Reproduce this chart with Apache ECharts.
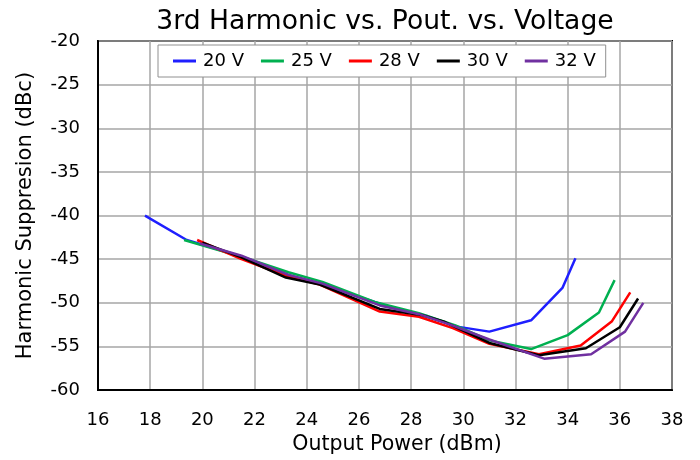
<!DOCTYPE html>
<html><head><meta charset="utf-8">
<script src="https://cdn.jsdelivr.net/npm/echarts@6/dist/echarts.min.js"></script>
<style>html,body{margin:0;padding:0;background:#fff}#c{width:700px;height:460px}</style>
</head><body><div id="c"></div>
<script>
var seriesNames = ['20 V', '25 V', '28 V', '30 V', '32 V'];
var seriesColors = ['#1f1fff', '#00b050', '#ff0000', '#000000', '#7030a0'];
var v20 = [[17.8,-40.0],[19.4,-42.8],[21.5,-44.7],[23.3,-46.8],[25.0,-48.3],[27.0,-50.3],[28.6,-51.5],[29.7,-52.7],[31.0,-53.3],[32.6,-52.0],[33.8,-48.3],[34.3,-44.9]];
var v25 = [[19.3,-42.8],[21.6,-44.8],[23.3,-46.5],[24.6,-47.6],[26.6,-49.9],[28.3,-51.2],[29.7,-52.6],[31.0,-54.3],[32.6,-55.3],[34.0,-53.7],[35.2,-51.1],[35.8,-47.4]];
var v28 = [[19.8,-42.8],[21.5,-45.0],[23.2,-46.9],[24.5,-47.9],[26.8,-51.0],[28.3,-51.6],[29.6,-52.9],[31.0,-54.7],[32.9,-55.9],[34.5,-54.9],[35.7,-52.1],[36.4,-48.8]];
var v30 = [[20.0,-43.1],[21.5,-44.8],[23.2,-47.1],[24.5,-47.9],[26.8,-50.7],[28.4,-51.4],[29.3,-52.2],[31.0,-54.6],[32.9,-56.0],[34.7,-55.2],[36.0,-52.8],[36.7,-49.5]];
var v32 = [[19.9,-43.2],[21.5,-44.6],[23.3,-46.8],[24.6,-47.8],[26.8,-50.3],[28.3,-51.3],[29.5,-52.5],[31.0,-54.2],[33.1,-56.4],[34.9,-55.9],[36.2,-53.3],[36.9,-50.0]];
var allData = [v20, v25, v28, v30, v32];
var xMin = 16, xMax = 38, xStep = 2;
var yMin = -60, yMax = -20, yStep = 5;

var font = 'DejaVu Sans, Arial, sans-serif';
var chart = echarts.init(document.getElementById('c'), null, {renderer: 'canvas'});
chart.setOption({
  animation: false,
  backgroundColor: '#fff',
  title: {
    text: '3rd Harmonic vs. Pout. vs. Voltage',
    left: 380, top: 4, textAlign: 'center',
    textStyle: {fontFamily: font, fontSize: 26.6, fontWeight: 'normal', color: '#000'}
  },
  legend: {
    left: 158, top: 45,
    data: seriesNames,
    backgroundColor: '#fff',
    borderColor: '#909090', borderWidth: 1,
    padding: [7, 10, 7, 15],
    itemGap: 17, itemWidth: 23, itemHeight: 3, icon: 'rect',
    textStyle: {fontFamily: font, fontSize: 18, color: '#000', padding: [0, 0, 0, 2]}
  },
  grid: {left: 98, right: 28, top: 41, bottom: 65, show: true, borderColor: '#000', borderWidth: 2, containLabel: false},
  xAxis: {
    type: 'value', min: xMin, max: xMax, interval: xStep,
    name: 'Output Power (dBm)', nameLocation: 'middle', nameGap: 37,
    nameTextStyle: {fontFamily: font, fontSize: 20.5, color: '#000', padding: [0, 0, 0, 24]},
    axisLine: {show: true, lineStyle: {color: '#000', width: 2}},
    axisTick: {show: false},
    axisLabel: {fontFamily: font, fontSize: 18, color: '#000', margin: 21},
    splitLine: {show: true, lineStyle: {color: '#a6a6a6', width: 1.5}}
  },
  yAxis: {
    type: 'value', min: yMin, max: yMax, interval: yStep,
    name: 'Harmonic Suppresion (dBc)', nameLocation: 'middle', nameGap: 62,
    nameTextStyle: {fontFamily: font, fontSize: 21, color: '#000'},
    axisLine: {show: true, lineStyle: {color: '#000', width: 2}},
    axisTick: {show: false},
    axisLabel: {fontFamily: font, fontSize: 18, color: '#000', margin: 18},
    splitLine: {show: true, lineStyle: {color: '#a6a6a6', width: 1.5}}
  },
  series: allData.map(function (d, i) {
    return {
      name: seriesNames[i], type: 'line', data: d, symbol: 'none',
      color: seriesColors[i],
      lineStyle: {color: seriesColors[i], width: 2.5},
      z: 2 + i
    };
  })
});
</script></body></html>
